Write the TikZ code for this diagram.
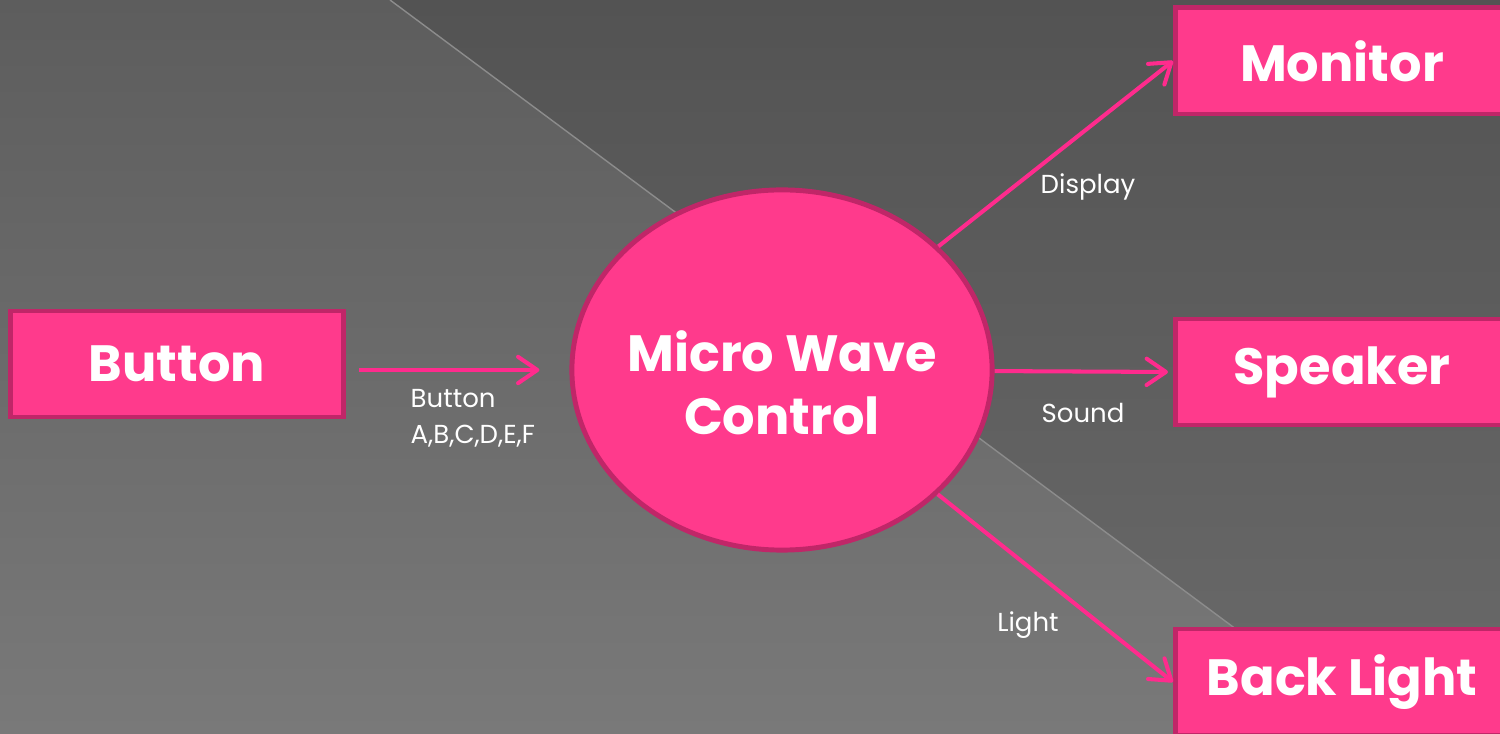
\documentclass[tikz,border=0pt]{standalone}
\usepackage{fontspec}
\setmainfont{Poppins}
\usetikzlibrary{arrows.meta,shapes.geometric,positioning}
\definecolor{pinkfill}{HTML}{FF3A8C}
\definecolor{pinkline}{HTML}{C02668}
\definecolor{pinkarrow}{HTML}{FF2B8D}
\definecolor{bgtop}{HTML}{5D5D5D}
\definecolor{bgbot}{HTML}{797979}
\definecolor{darktop}{HTML}{535353}
\definecolor{darkbot}{HTML}{6A6A6A}
\definecolor{seam}{HTML}{8C8C8C}
\begin{document}
\begin{tikzpicture}[x=0.01cm,y=-0.01cm,
  box/.style={draw=pinkline,fill=pinkfill,line width=1.4pt,minimum width=3.33cm,minimum height=1.06cm,text=white,font=\fontsize{14.5}{18}\selectfont\bfseries},
  flow/.style={draw=pinkarrow,line width=1.15pt,-{Straight Barb[length=5.5pt,width=7.5pt,round]}},
  lbl/.style={text=white,font=\fontsize{7.4}{10}\selectfont,inner sep=0pt}]
\useasboundingbox (0,0) rectangle (1500,734);
\clip (0,0) rectangle (1500,734);
\shade[top color=bgtop,bottom color=bgbot] (0,0) rectangle (1500,734);
\shade[top color=darktop,bottom color=darkbot] (390,0) -- (1500,0) -- (1500,734) -- (1377,734) -- cycle;
\draw[seam,line width=0.4pt] (390,0) -- (1377,734);
\node[box] (btn) at (177,364) {Button};
\node[ellipse,draw=pinkline,fill=pinkfill,line width=1.4pt,minimum width=4.2cm,minimum height=3.6cm,
  inner xsep=-6pt,inner ysep=0pt,text=white,font=\fontsize{14.5}{18}\selectfont\bfseries] (mwc) at (782,370)
  {\raisebox{-5.7pt}[\height][\depth]{\begin{tabular}{@{}c@{}}Micro Wave\\Control\end{tabular}}};
\node[box] (mon) at (1342,61) {Monitor};
\node[box] (spk) at (1342,372) {Speaker};
\node[box] (bl) at (1342,682) {Back Light};
\draw[flow,shorten <=0.13cm,shorten >=0.3cm] (btn.east |- mwc.west) -- (mwc.west);
\draw[flow] (mwc) -- (mon.west);
\draw[flow,shorten >=0.05cm] (mwc) -- (spk.west);
\draw[flow] (mwc) -- (bl.west);
\node[lbl,anchor=north west,align=left] (btnlbl) at (410,389) {Button\\A,B,C,D,E,F};
\node[lbl] (displbl) at (1088,187) {Display};
\node[lbl] (sndlbl) at (1083,413) {Sound};
\node[lbl] (ltlbl) at (1028,625) {Light};
\end{tikzpicture}
\end{document}
